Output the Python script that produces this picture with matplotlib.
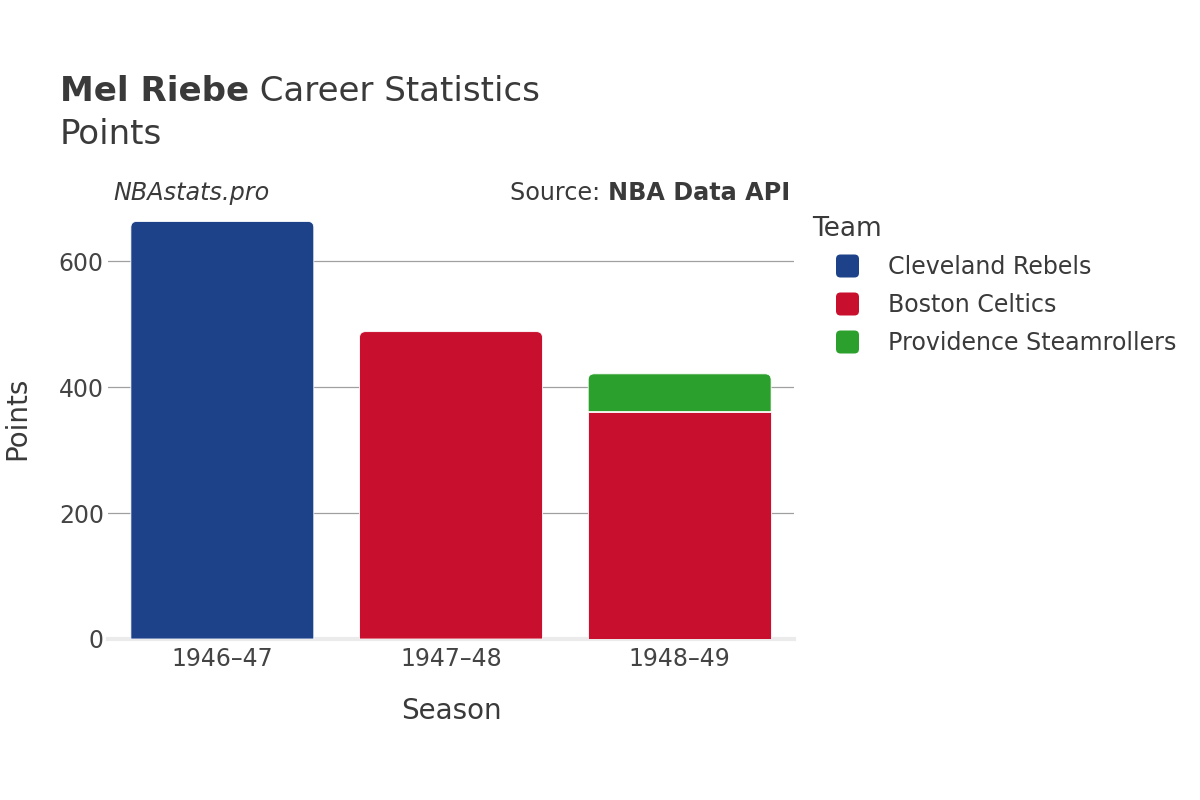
import matplotlib
matplotlib.use("Agg")
import matplotlib.pyplot as plt
from matplotlib.path import Path
from matplotlib.patches import PathPatch, FancyBboxPatch

plt.rcParams['font.family'] = ['DejaVu Sans']

seasons = ["1946\u201347", "1947\u201348", "1948\u201349"]
teams = ["Cleveland Rebels", "Boston Celtics", "Providence Steamrollers"]
colors = ["#1D428A", "#C8102E", "#2CA02C"]
# points per team per season
cleveland = [663, 0, 0]
boston = [0, 488, 361]
providence = [0, 0, 60]
series = [cleveland, boston, providence]
yticks = [0, 200, 400, 600]

W, H = 1200, 800
fig = plt.figure(figsize=(12, 8), dpi=100)
ax = fig.add_axes([108 / W, 1 - 639 / H, (794 - 108) / W, (639 - 200) / H])
ax.set_xlim(-0.5, 2.5)
ax.set_ylim(0, 697)

TXT = "#3a3a3a"
TICK = "#444444"

for s in ax.spines.values():
    s.set_visible(False)
ax.set_yticks(yticks)
ax.set_xticks(range(len(seasons)))
ax.set_xticklabels(seasons)
ax.tick_params(axis='both', length=0, labelsize=17, colors=TICK)
ax.tick_params(axis='y', pad=3)
ax.tick_params(axis='x', pad=6)
ax.yaxis.grid(True, color="#a0a0a0", lw=0.9, zorder=0)
ax.set_axisbelow(True)
ax.axhline(0, color="#ebebeb", lw=3, zorder=1, clip_on=False)

# pixel scale to data
p0 = ax.transData.transform((0, 0))
p1 = ax.transData.transform((1, 1))
px_x = p1[0] - p0[0]
px_y = p1[1] - p0[1]
r_px = 6
rx, ry = r_px / px_x, r_px / px_y

bottoms = [0, 0, 0]
tops_index = []
for j in range(len(seasons)):
    last = None
    for i in range(len(series)):
        if series[i][j] > 0:
            last = i
    tops_index.append(last)

for i, vals in enumerate(series):
    bars = ax.bar(range(len(seasons)), vals, width=0.8, bottom=bottoms,
                  color=colors[i], edgecolor="white", lw=0.6, zorder=2)
    for j, rect in enumerate(bars):
        if vals[j] <= 0:
            rect.set_visible(False)
            continue
        if tops_index[j] == i:
            x0 = rect.get_x()
            x1 = x0 + rect.get_width()
            b = rect.get_y()
            t = b + rect.get_height()
            verts = [(x0, b), (x1, b), (x1, t - ry), (x1, t), (x1 - rx, t),
                     (x0 + rx, t), (x0, t), (x0, t - ry), (x0, b)]
            codes = [Path.MOVETO, Path.LINETO, Path.LINETO, Path.CURVE3, Path.CURVE3,
                     Path.LINETO, Path.CURVE3, Path.CURVE3, Path.CLOSEPOLY]
            rect.set_visible(False)
            ax.add_patch(PathPatch(Path(verts, codes), facecolor=colors[i],
                                   edgecolor="white", lw=0.6, zorder=2))
    bottoms = [bottoms[k] + vals[k] for k in range(len(vals))]

# Titles
renderer = fig.canvas.get_renderer()
t1 = fig.text(60 / W, 1 - 101 / H, "Mel Riebe", fontsize=24.5, fontweight='bold',
              color=TXT, va='baseline', ha='left')
bb = t1.get_window_extent(renderer)
fig.text(bb.x1 / W, 1 - 101 / H, " Career Statistics", fontsize=24.5, color=TXT,
         va='baseline', ha='left')
fig.text(60 / W, 1 - 144 / H, "Points", fontsize=24.5, color=TXT, va='baseline', ha='left')

fig.text(113 / W, 1 - 200 / H, "NBAstats.pro", fontsize=17.2, style='italic',
         color=TXT, va='baseline', ha='left')
t2 = fig.text(790 / W, 1 - 200 / H, "NBA Data API", fontsize=17.2, fontweight='bold',
              color=TXT, va='baseline', ha='right')
bb2 = t2.get_window_extent(renderer)
fig.text(bb2.x0 / W, 1 - 200 / H, "Source: ", fontsize=17.2, color=TXT,
         va='baseline', ha='right')

fig.text(451 / W, 1 - 711 / H, "Season", fontsize=20, color=TXT, ha='center', va='center')
fig.text(17 / W, 1 - 418 / H, "Points", fontsize=20, color=TXT, ha='center', va='center',
         rotation=90)

# Legend
fig.text(812 / W, 1 - 236 / H, "Team", fontsize=19, color=TXT, ha='left', va='baseline')
for k, (name, c) in enumerate(zip(teams, colors)):
    cy = 266 + 38 * k
    fig.patches.append(FancyBboxPatch(((836) / 100, (H - cy - 11.5) / 100), 0.23, 0.23,
                                      boxstyle="round,pad=0,rounding_size=0.045",
                                      facecolor=c, edgecolor='none',
                                      transform=fig.dpi_scale_trans, figure=fig))
    fig.text(888 / W, 1 - (cy + 8.5) / H, name, fontsize=17.1, color=TXT,
             ha='left', va='baseline')

fig.savefig("out.png", dpi=100)
